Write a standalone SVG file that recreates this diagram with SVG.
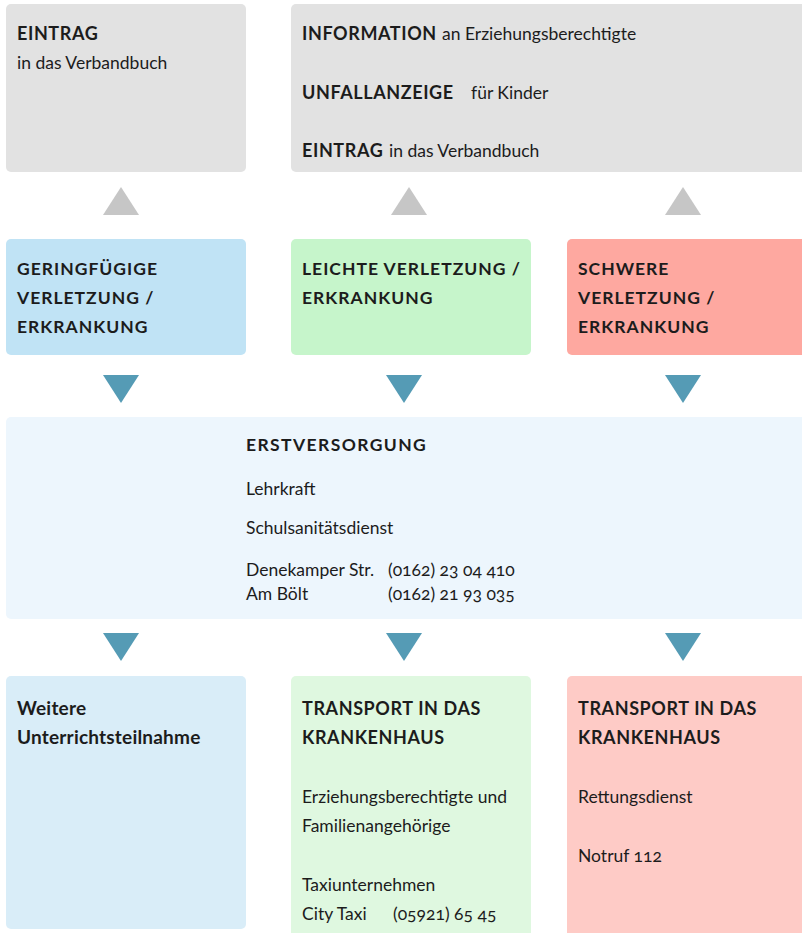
<svg xmlns="http://www.w3.org/2000/svg" width="802" height="933" viewBox="0 0 802 933">
<style>
text { font-family: Lato, "Open Sans", "Liberation Sans", sans-serif; fill: #1c1c1c; }
.h { font-weight: 700; font-size: 17.5px; letter-spacing: 1.0px; }
.he { font-weight: 700; font-size: 17.5px; letter-spacing: 1.4px; }
.hb { font-weight: 700; font-size: 18px; letter-spacing: 0.6px; }
.t { font-weight: 400; font-size: 17.5px; }
.b { font-weight: 700; font-size: 19px; letter-spacing: 0.2px; }
.num { font-feature-settings: "onum"; font-variant-numeric: oldstyle-nums; }
.up { fill: #c6c6c6; }
.down { fill: #559bb5; }
</style>
<rect width="802" height="933" fill="#ffffff"/>
<g id="connectors">
  <polygon class="up" points="103,215 121,187 139,215"/>
  <polygon class="up" points="391,215 409,187 427,215"/>
  <polygon class="up" points="665,215 683,187 701,215"/>
  <polygon class="down" points="103,375 139,375 121,403"/>
  <polygon class="down" points="386,375 422,375 404,403"/>
  <polygon class="down" points="665,375 701,375 683,403"/>
  <polygon class="down" points="103,633 139,633 121,661"/>
  <polygon class="down" points="386,633 422,633 404,661"/>
  <polygon class="down" points="665,633 701,633 683,661"/>
</g>
<g id="eintrag-links">
  <rect x="6" y="4" width="240" height="168" rx="5" fill="#e2e2e2"/>
  <text class="hb" x="17" y="40">EINTRAG</text>
  <text class="t" x="17" y="69">in das Verbandbuch</text>
</g>
<g id="information">
  <rect x="291" y="4" width="520" height="168" rx="5" fill="#e2e2e2"/>
  <text x="302" y="40"><tspan class="hb">INFORMATION</tspan><tspan class="t" x="442">an Erziehungsberechtigte</tspan></text>
  <text x="302" y="99"><tspan class="hb">UNFALLANZEIGE</tspan><tspan class="t" x="471">für Kinder</tspan></text>
  <text x="302" y="157"><tspan class="hb">EINTRAG</tspan><tspan class="t" x="389">in das Verbandbuch</tspan></text>
</g>
<g id="geringfuegig">
  <rect x="6" y="239" width="240" height="116" rx="5" fill="#c0e3f5"/>
  <text class="h" x="17" y="275">GERINGFÜGIGE</text>
  <text class="h" x="17" y="304">VERLETZUNG /</text>
  <text class="h" x="17" y="333">ERKRANKUNG</text>
</g>
<g id="leicht">
  <rect x="291" y="239" width="240" height="116" rx="5" fill="#c6f5cb"/>
  <text class="h" x="302" y="275">LEICHTE VERLETZUNG /</text>
  <text class="h" x="302" y="304">ERKRANKUNG</text>
</g>
<g id="schwer">
  <rect x="567" y="239" width="250" height="116" rx="5" fill="#fea8a0"/>
  <text class="h" x="578" y="275">SCHWERE</text>
  <text class="h" x="578" y="304">VERLETZUNG /</text>
  <text class="h" x="578" y="333">ERKRANKUNG</text>
</g>
<g id="erstversorgung">
  <rect x="6" y="417" width="810" height="202" rx="5" fill="#edf6fd"/>
  <text class="he" x="246" y="451">ERSTVERSORGUNG</text>
  <text class="t" x="246" y="495">Lehrkraft</text>
  <text class="t" x="246" y="534">Schulsanitätsdienst</text>
  <text class="t" x="246" y="576">Denekamper Str.</text>
  <text class="t num" x="388" y="576">(0162) 23 04 410</text>
  <text class="t" x="246" y="600">Am Bölt</text>
  <text class="t num" x="388" y="600">(0162) 21 93 035</text>
</g>
<g id="weitere">
  <rect x="6" y="676" width="240" height="253" rx="5" fill="#d9edf8"/>
  <text class="b" x="17" y="715">Weitere</text>
  <text class="b" x="17" y="744">Unterrichtsteilnahme</text>
</g>
<g id="transport-leicht">
  <rect x="291" y="676" width="240" height="270" rx="5" fill="#dff8e0"/>
  <text class="hb" x="302" y="715">TRANSPORT IN DAS</text>
  <text class="hb" x="302" y="744">KRANKENHAUS</text>
  <text class="t" x="302" y="803">Erziehungsberechtigte und</text>
  <text class="t" x="302" y="832">Familienangehörige</text>
  <text class="t" x="302" y="891">Taxiunternehmen</text>
  <text class="t" x="302" y="920">City Taxi</text>
  <text class="t num" x="393" y="920">(05921) 65 45</text>
</g>
<g id="transport-schwer">
  <rect x="567" y="676" width="250" height="270" rx="5" fill="#fecbc6"/>
  <text class="hb" x="578" y="715">TRANSPORT IN DAS</text>
  <text class="hb" x="578" y="744">KRANKENHAUS</text>
  <text class="t" x="578" y="803">Rettungsdienst</text>
  <text class="t num" x="578" y="862">Notruf 112</text>
</g>
</svg>
